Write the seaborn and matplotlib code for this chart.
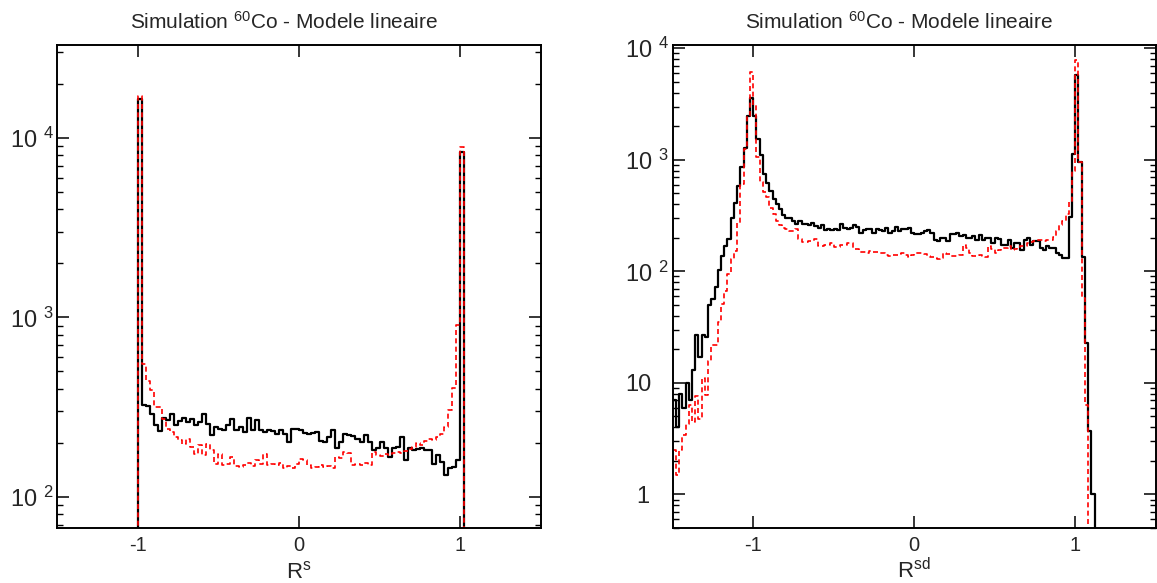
import numpy as np
import pandas as pd
import matplotlib
matplotlib.use("Agg")
import matplotlib.pyplot as plt
from matplotlib.ticker import LogLocator, NullFormatter, NullLocator
import seaborn as sns

# left panel : R^s, bins of 0.025 between -1.025 and 1.05
rs_edges = np.linspace(-1.025, 1.05, 84)
rs_black = [0, 16600,
            324, 320, 291, 250, 232, 275, 268, 291, 250, 265,
            275, 262, 270, 250, 262, 291, 255, 220, 245, 240,
            235, 250, 272, 235, 245, 230, 275, 235, 268, 235,
            230, 235, 232, 225, 235, 225, 203, 240, 238, 235,
            228, 225, 226, 230, 205, 203, 215, 235, 187, 203,
            225, 220, 218, 211, 203, 220, 203, 182, 187, 203,
            187, 167, 187, 190, 215, 160, 187, 182, 185, 187,
            182, 182, 153, 172, 157, 132, 144, 147, 160,
            8320, 0]
rs_red = [0, 17100,
          553, 441, 393, 317, 317, 273, 240, 230, 216, 207,
          198, 211, 190, 174, 195, 172, 198, 182, 153, 174,
          150, 153, 167, 148, 146, 150, 155, 148, 160, 152,
          174, 150, 152, 150, 155, 145, 148, 144, 152, 163,
          160, 150, 144, 146, 150, 147, 148, 144, 167, 165,
          178, 175, 150, 152, 150, 155, 150, 178, 172, 168,
          174, 172, 176, 178, 175, 180, 185, 190, 200, 195,
          205, 211, 207, 216, 225, 245, 304, 403, 905,
          8880, 0]

# right panel : R^sd, bins of 0.02 between -1.5 and 1.14
rsd_edges = np.linspace(-1.5, 1.14, 133)
rsd_black = [7, 4, 8, 6, 10, 7, 13, 27, 17, 27,
             26, 50, 56, 73, 103, 137, 168, 197, 303, 406,
             586, 860, 1286, 2456, 3548, 2483, 1550, 1100, 747, 616,
             521, 444, 400, 360, 321, 299, 303, 283, 264, 283,
             264, 264, 258, 270, 255, 245, 258, 236, 241, 236,
             241, 236, 264, 245, 238, 243, 258, 250, 222, 235,
             238, 238, 222, 238, 234, 230, 246, 222, 230, 250,
             230, 238, 238, 246, 222, 218, 218, 222, 230, 233,
             222, 193, 187, 200, 200, 187, 214, 218, 222, 207,
             210, 200, 200, 207, 193, 210, 193, 200, 200, 180,
             200, 197, 174, 174, 193, 162, 180, 180, 157, 193,
             200, 174, 187, 187, 162, 157, 168, 162, 162, 147,
             141, 132, 132, 309, 1132, 5750, 953, 134, 23, 3.7,
             1.0, 0]
rsd_red = [2.5, 1.5, 2.5, 3.4, 4.3, 6.4, 4.5, 7.6, 4.7, 11,
           7.8, 15.7, 22, 22, 35, 51, 67, 95, 130, 151,
           273, 607, 1256, 2460, 6100, 3100, 1050, 627, 511, 460,
           373, 325, 283, 260, 246, 240, 230, 230, 238, 196,
           183, 183, 187, 187, 196, 168, 168, 174, 174, 180,
           164, 164, 174, 174, 180, 180, 158, 158, 150, 150,
           147, 152, 150, 149, 147, 147, 140, 137, 141, 141,
           143, 147, 140, 135, 141, 146, 147, 145, 144, 137,
           135, 133, 128, 132, 145, 143, 138, 136, 137, 141,
           174, 162, 147, 137, 137, 140, 138, 135, 168, 160,
           147, 157, 162, 162, 168, 157, 160, 162, 168, 168,
           180, 182, 187, 193, 190, 187, 190, 193, 205, 230,
           260, 283, 330, 420, 800, 7850, 950, 58, 6.3, 0,
           0, 0]

title = r"Simulation $\mathregular{^{60}}$Co - Modele lineaire"
x_ticks = [-1, 0, 1]
x_ticklabels = ["-1", "0", "1"]
left_yticks = [1e2, 1e3, 1e4]
left_ylabels = [r"10 $\mathregular{^{2}}$", r"10 $\mathregular{^{3}}$", r"10 $\mathregular{^{4}}$"]
right_yticks = [1, 10, 1e2, 1e3, 1e4]
right_ylabels = [r"$\mathregular{\enspace 1}$", "10", r"10 $\mathregular{^{2}}$",
                 r"10 $\mathregular{^{3}}$", r"10 $\mathregular{^{4}}$"]

sns.set_theme(style="ticks")
plt.rcParams["font.family"] = ["Liberation Sans", "DejaVu Sans"]
plt.rcParams["axes.edgecolor"] = "black"
plt.rcParams["axes.linewidth"] = 1.4

fig = plt.figure(figsize=(11.57, 5.83), dpi=100)
W, H = 1157, 583
ax1 = fig.add_axes([57 / W, 55 / H, 484 / W, 483 / H])
ax2 = fig.add_axes([672.7 / W, 55 / H, 483 / W, 483 / H])


def draw(ax, edges, black, red):
    centers = (edges[:-1] + edges[1:]) / 2
    df = pd.DataFrame({"x": centers, "data": black, "sim": red})
    bins = list(edges)
    sns.histplot(data=df, x="x", weights="data", bins=bins, element="step",
                 fill=False, color="black", linewidth=1.6, ax=ax)
    sns.histplot(data=df, x="x", weights="sim", bins=bins, element="step",
                 fill=False, color="red", linewidth=1.2, linestyle=(0, (3, 2)), ax=ax)


draw(ax1, rs_edges, rs_black, rs_red)
draw(ax2, rsd_edges, rsd_black, rsd_red)

for ax, ylim, yt, yl, xlab, tx in [
        (ax1, (67, 33000), left_yticks, left_ylabels, r"$\mathregular{R^{s}}$", 284),
        (ax2, (0.5, 1.07e4), right_yticks, right_ylabels, r"$\mathregular{R^{sd}}$", 899)]:
    ax.set_yscale("log")
    ax.set_xlim(-1.5, 1.5)
    ax.set_ylim(*ylim)
    ax.set_xticks(x_ticks)
    ax.set_xticklabels(x_ticklabels, fontsize=14.5)
    ax.xaxis.set_minor_locator(NullLocator())
    ax.set_yticks(yt)
    ax.set_yticklabels(yl, fontsize=17, ha="left")
    ax.yaxis.set_minor_locator(LogLocator(base=10, subs=np.arange(2, 10), numticks=20))
    ax.yaxis.set_minor_formatter(NullFormatter())
    ax.tick_params(which="both", direction="in", top=True, right=True, color="black")
    ax.tick_params(which="major", length=8.5, width=1.1)
    ax.tick_params(which="minor", length=4.3, width=1.0)
    ax.tick_params(axis="x", pad=6)
    ax.tick_params(axis="y", pad=34)
    ax.set_xlabel("")
    ax.set_ylabel("")
    for s in ax.spines.values():
        s.set_visible(True)
        s.set_color("black")
    bb = ax.get_position()
    fig.text((bb.x0 + bb.x1) / 2, 5 / H, xlab, ha="center", va="baseline", fontsize=16)
    fig.text(tx / W, 1 - 22 / H, title, ha="center", va="center", fontsize=15)

fig.savefig("out.png", dpi=100)
